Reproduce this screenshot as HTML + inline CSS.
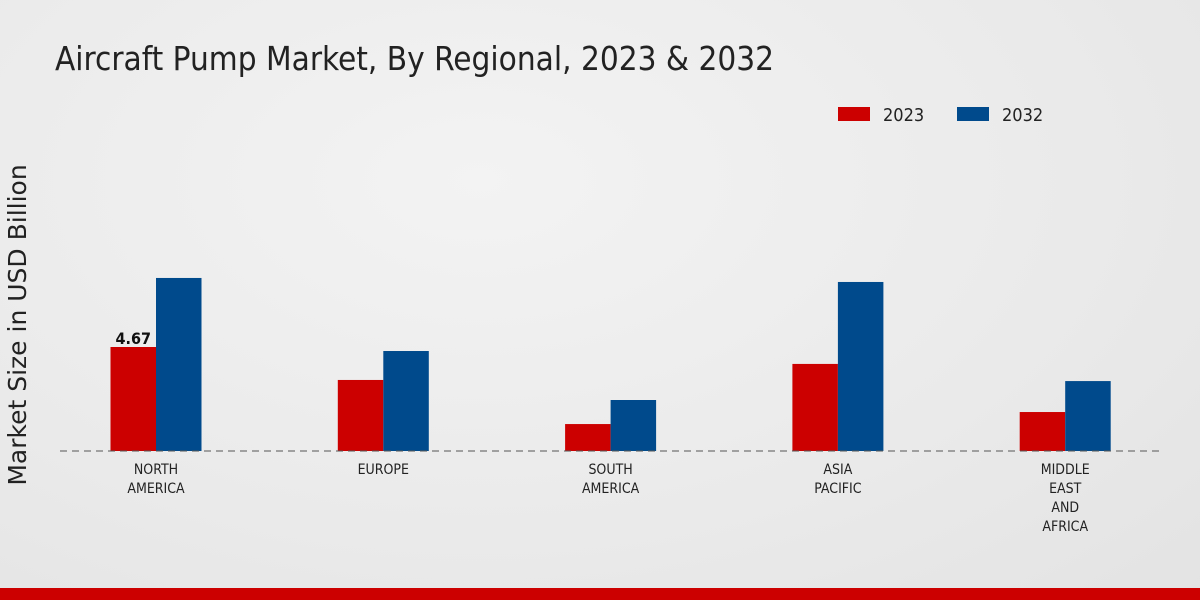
<!DOCTYPE html>
<html><head><meta charset="utf-8"><style>
body{margin:0;width:1200px;height:600px;overflow:hidden;font-family:"Liberation Sans","DejaVu Sans",sans-serif;}
#bg{position:absolute;left:0;top:0;width:1200px;height:600px;background:radial-gradient(ellipse at 40% 30%,#f3f3f3 0%,#eaeaea 60%,#e3e3e3 100%);}
</style></head><body>
<div id="bg"></div>
<svg id="c" width="1200" height="600" style="position:absolute;left:0;top:0">
<text x="55" y="70" font-size="33" fill="#222" font-family="DejaVu Sans Condensed, Liberation Sans Narrow, Liberation Sans, sans-serif">Aircraft Pump Market, By Regional, 2023 &amp; 2032</text>
<text transform="translate(26,325) rotate(-90)" text-anchor="middle" font-size="25" fill="#222" font-family="DejaVu Sans, sans-serif">Market Size in USD Billion</text>
<g>
<rect x="838" y="107" width="32" height="14" fill="#cc0000"/>
<text x="883" y="121" font-size="18" fill="#222" font-family="DejaVu Sans Condensed, sans-serif">2023</text>
<rect x="957" y="107" width="32" height="14" fill="#004a8c"/>
<text x="1002" y="121" font-size="18" fill="#222" font-family="DejaVu Sans Condensed, sans-serif">2032</text>
</g>
<g id="bars"></g>
<line x1="60" y1="451" x2="1160" y2="451" stroke="#555" stroke-dasharray="7,5" stroke-width="1"/>
<g id="labels"></g>
<rect x="0" y="588" width="1200" height="12" fill="#cc0000"/>
</svg>
<script>
const categories=[["NORTH","AMERICA"],["EUROPE"],["SOUTH","AMERICA"],["ASIA","PACIFIC"],["MIDDLE","EAST","AND","AFRICA"]];
const values2023=[4.67,3.19,1.21,3.91,1.75];
const values2032=[7.77,4.49,2.29,7.59,3.14];
const ns="http://www.w3.org/2000/svg";
const base=451, scale=22.27;
const xc=i=>156+i*227.3;
const y=v=>base-v*scale;
const bars=document.getElementById('bars'), labels=document.getElementById('labels');
function bar(x,v,color,name){
 const r=document.createElementNS(ns,'rect');
 r.setAttribute('x',x);r.setAttribute('y',y(v));r.setAttribute('width',45.5);r.setAttribute('height',base-y(v));r.setAttribute('fill',color);
 
 
 bars.appendChild(r);
}
categories.forEach((c,i)=>{
 bar(xc(i)-45.5,values2023[i],'#cc0000','bar-2023-'+i);
 bar(xc(i),values2032[i],'#004a8c','bar-2032-'+i);
 c.forEach((line,j)=>{
  const t=document.createElementNS(ns,'text');
  t.setAttribute('x',xc(i));t.setAttribute('y',474+j*19);t.setAttribute('text-anchor','middle');
  t.setAttribute('font-size','14');t.setAttribute('fill','#222');t.setAttribute('font-family','DejaVu Sans Condensed, Liberation Sans Narrow, sans-serif');
  t.textContent=line;
  
  
  labels.appendChild(t);
 });
});
const vl=document.createElementNS(ns,'text');
vl.setAttribute('x',xc(0)-22.75);vl.setAttribute('y',y(values2023[0])-3);vl.setAttribute('text-anchor','middle');
vl.setAttribute('font-size','16');vl.setAttribute('font-weight','bold');vl.setAttribute('fill','#111');
vl.setAttribute('font-family','DejaVu Sans Condensed, sans-serif');
vl.textContent=values2023[0].toFixed(2);


labels.appendChild(vl);
</script>
</body></html>
